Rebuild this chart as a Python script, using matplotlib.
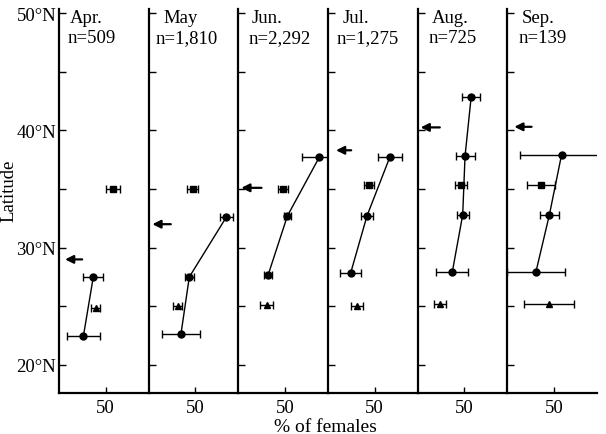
import matplotlib
matplotlib.use("Agg")
import matplotlib.pyplot as plt

plt.rcParams["font.family"] = ["Liberation Serif", "DejaVu Serif"]

months = ["Apr.", "May", "Jun.", "Jul.", "Aug.", "Sep."]
n_labels = ["n=509", "n=1,810", "n=2,292", "n=1,275", "n=725", "n=139"]

# circles (connected), latitude / % females / error
circle_lat = [[27.5, 22.5], [32.6, 27.5, 22.6], [37.7, 32.7, 27.7],
              [37.7, 32.7, 27.8], [42.8, 37.8, 32.8, 27.9], [37.9, 32.8, 27.9]]
circle_pct = [[36.7, 26.2], [83.1, 43.5, 34.5], [86.6, 52.5, 32.0],
              [66.1, 41.7, 24.1], [57.2, 50.7, 48.2, 37.0], [58.0, 45.0, 30.5]]
circle_err = [[10.6, 18.0], [7.0, 5.0, 20.0], [18.8, 3.6, 4.5],
              [12.6, 6.3, 11.1], [9.5, 10.2, 6.6, 17.4], [44.0, 10.4, 31.0]]

# squares
square_lat = [35.0, 35.0, 35.0, 35.3, 35.3, 35.3]
square_pct = [57.9, 47.1, 48.2, 43.9, 46.4, 36.0]
square_err = [7.2, 5.7, 5.4, 5.4, 6.3, 14.9]

# triangles
tri_lat = [24.9, 25.0, 25.1, 25.0, 25.2, 25.2]
tri_pct = [39.2, 30.9, 30.2, 31.3, 24.1, 44.6]
tri_err = [5.0, 5.0, 7.2, 6.3, 6.3, 27.0]

# arrows (latitude, head x, tail x)
arrow_lat = [29.0, 32.0, 35.1, 38.3, 40.25, 40.3]
arrow_head = [6.5, 4.0, 3.2, 8.6, 3.2, 7.5]
arrow_tail = [24.8, 23.7, 24.8, 24.8, 23.7, 25.9]

fig = plt.figure(figsize=(6.06, 4.35), dpi=100)

left, width = 59 / 606, 89.67 / 606
bottom, height = 1 - 394 / 435, 384 / 435
ylo = 20 - 28 / 11.73
yhi = 50 + 4 / 11.73

month_x = [11.8, 16.0, 14.0, 16.0, 15.0, 15.0]
n_x = [9.6, 7.5, 10.7, 9.6, 11.8, 11.8]

for i in range(6):
    ax = fig.add_axes([left + i * width, bottom, width, height])
    ax.set_xlim(0, 96)
    ax.set_ylim(ylo, yhi)
    for s in ["top", "right"]:
        ax.spines[s].set_visible(False)
    ax.spines["left"].set_linewidth(1.6)
    ax.spines["bottom"].set_linewidth(1.6)

    ax.errorbar(circle_pct[i], circle_lat[i], xerr=circle_err[i], fmt="-o",
                color="k", ms=5, lw=1.0, elinewidth=1.0, capsize=3, capthick=1.0)
    ax.errorbar(square_pct[i], square_lat[i], xerr=square_err[i], fmt="s",
                color="k", ms=5, elinewidth=1.0, capsize=3, capthick=1.0)
    ax.errorbar(tri_pct[i], tri_lat[i], xerr=tri_err[i], fmt="^",
                color="k", ms=5, elinewidth=1.0, capsize=3, capthick=1.0)
    ax.annotate("", xy=(arrow_head[i], arrow_lat[i]), xytext=(arrow_tail[i], arrow_lat[i]),
                arrowprops=dict(arrowstyle="-|>", color="k", lw=1.6, mutation_scale=12,
                                shrinkA=0, shrinkB=0))

    ax.text(month_x[i], 49.6, months[i], fontsize=13.5, va="center", ha="left")
    ax.text(n_x[i], 47.9, n_labels[i], fontsize=13.5, va="center", ha="left")

    ax.set_xticks([50])
    ax.set_xticklabels(["50"], fontsize=13.5)
    ax.tick_params(axis="x", direction="in", length=4, width=1.0, pad=4)
    ax.set_yticks([20, 30, 40, 50])
    ax.set_yticks([25, 35, 45], minor=True)
    ax.tick_params(axis="y", which="both", direction="in", length=5, width=1.0)
    if i == 0:
        ax.set_yticklabels(["20°N", "30°N", "40°N", "50°N"], fontsize=13.5)
        ax.tick_params(axis="y", pad=2)
        ax.set_ylabel("Latitude", fontsize=13.5)
        ax.yaxis.set_label_coords(-0.46, 0.53)
    else:
        ax.set_yticklabels([])

fig.text(325 / 606, 1 - 419 / 435, "% of females", fontsize=14, ha="center", va="top")

fig.savefig("out.png", dpi=100)
